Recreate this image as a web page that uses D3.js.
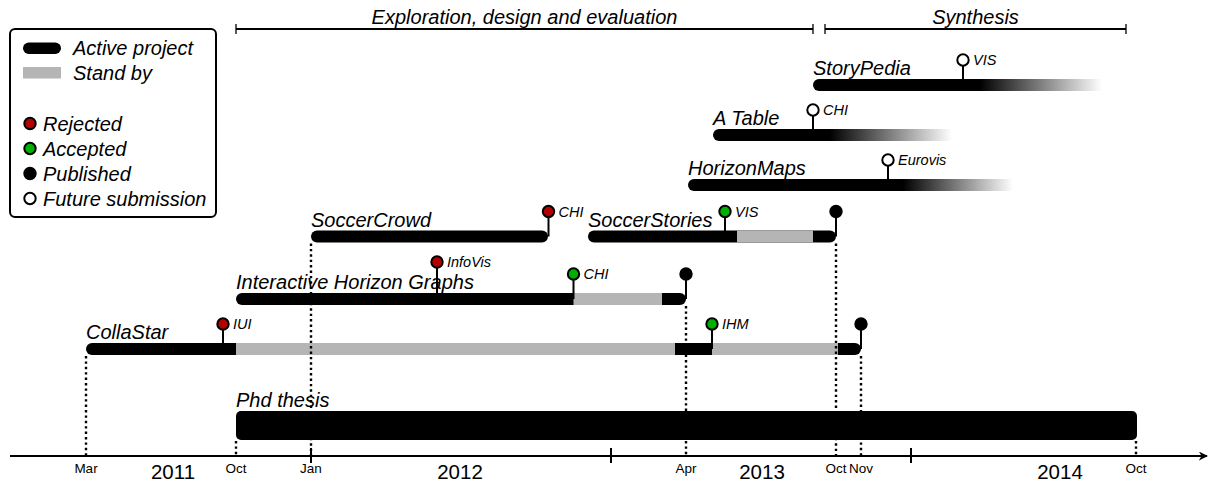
<!DOCTYPE html>
<html>
<head>
<meta charset="utf-8">
<script src="https://cdn.jsdelivr.net/npm/d3@7"></script>
<style>
  body { margin: 0; background: #fff; }
  text { font-family: "Liberation Sans", Arial, sans-serif; }
</style>
</head>
<body>
<div class="svg"></div>
<script>
var w = 1215;
var h = 483;

// time is counted in months since Jan 2011
var rows = ["StoryPedia", "A Table", "HorizonMaps", "Soccer", "Interactive Horizon Graphs", "CollaStar", "Phd thesis"];

// projects: start, end, stand by periods
var projects = [
  { name: "CollaStar", row: "CollaStar", start: 3, end: 34, standby: [[9, 26.56], [28.04, 33.08]] },
  { name: "Interactive Horizon Graphs", row: "Interactive Horizon Graphs", start: 9, end: 27, standby: [[22.5, 26.04]] },
  { name: "SoccerCrowd", row: "Soccer", start: 12, end: 21.48, standby: [] },
  { name: "SoccerStories", row: "Soccer", start: 23.08, end: 33, standby: [[29.04, 32.08]] }
];

// projects still running, fading out
var fading = [
  { name: "StoryPedia", row: "StoryPedia", start: 32.08, fadeFrom: 38.08, fadeTo: 43.64 },
  { name: "A Table", row: "A Table", start: 28.08, fadeFrom: 32.08, fadeTo: 37.64 },
  { name: "HorizonMaps", row: "HorizonMaps", start: 27.08, fadeFrom: 35.08, fadeTo: 40.08 }
];

var thesis = { name: "Phd thesis", row: "Phd thesis", start: 9, end: 45.04 };

// submissions
var events = [
  { row: "CollaStar", project: "CollaStar", at: 8.48, status: "rejected", venue: "IUI" },
  { row: "CollaStar", project: "CollaStar", at: 28.04, status: "accepted", venue: "IHM" },
  { row: "CollaStar", project: "CollaStar", at: 34, status: "published", venue: "" },
  { row: "Interactive Horizon Graphs", project: "Interactive Horizon Graphs", at: 17.04, status: "rejected", venue: "InfoVis" },
  { row: "Interactive Horizon Graphs", project: "Interactive Horizon Graphs", at: 22.5, status: "accepted", venue: "CHI" },
  { row: "Interactive Horizon Graphs", project: "Interactive Horizon Graphs", at: 27, status: "published", venue: "" },
  { row: "Soccer", project: "SoccerCrowd", at: 21.5, status: "rejected", venue: "CHI" },
  { row: "Soccer", project: "SoccerStories", at: 28.56, status: "accepted", venue: "VIS" },
  { row: "Soccer", project: "SoccerStories", at: 33, status: "published", venue: "" },
  { row: "HorizonMaps", project: "HorizonMaps", at: 35.08, status: "future", venue: "Eurovis" },
  { row: "A Table", project: "A Table", at: 32.08, status: "future", venue: "CHI" },
  { row: "StoryPedia", project: "StoryPedia", at: 38.08, status: "future", venue: "VIS" }
];

// dotted milestones on the time axis
var milestones = [
  { label: "Mar", at: 3, row: "CollaStar" },
  { label: "Oct", at: 9, row: "Phd thesis" },
  { label: "Jan", at: 12, row: "Soccer" },
  { label: "Apr", at: 27, row: "Interactive Horizon Graphs" },
  { label: "Oct", at: 33, row: "Soccer" },
  { label: "Nov", at: 34, row: "CollaStar" },
  { label: "Oct", at: 45, row: "Phd thesis" }
];

var yearTicks = [12, 24, 36];
var yearLabels = [
  { year: "2011", at: 6.48 },
  { year: "2012", at: 17.96 },
  { year: "2013", at: 30.04 },
  { year: "2014", at: 41.96 }
];

var phases = [
  { label: "Exploration, design and evaluation", from: 9, to: 32.08 },
  { label: "Synthesis", from: 32.56, to: 44.6 }
];

var legendBars = [
  { label: "Active project", type: "active" },
  { label: "Stand by", type: "standby" }
];
var legendDots = [
  { label: "Rejected", status: "rejected" },
  { label: "Accepted", status: "accepted" },
  { label: "Published", status: "published" },
  { label: "Future submission", status: "future" }
];

var statusColor = { rejected: "#b30000", accepted: "#00b000", published: "#000", future: "#fff" };
var greyColor = "#b5b5b5";

var x = d3.scaleLinear().domain([0, 48]).range([11, 1211]);
var y = d3.scaleOrdinal().domain(rows).range([85, 135, 185, 236.5, 299, 349, 425.5]);

var barH = 12;
var thesisH = 29;
var axisY = 456;
var bigFont = 20;

var svg = d3.select(".svg").append("svg")
  .attr("width", w)
  .attr("height", h);

var defs = svg.append("defs");

defs.append("marker")
  .attr("id", "arrow")
  .attr("viewBox", "0 0 10 10")
  .attr("refX", 9).attr("refY", 5)
  .attr("markerWidth", 9).attr("markerHeight", 9)
  .attr("markerUnits", "userSpaceOnUse")
  .attr("orient", "auto")
  .append("path")
  .attr("d", "M0,0 L10,5 L0,10 L3,5 Z")
  .attr("fill", "#000");

// ---- phases on top
var ph = svg.append("g").selectAll("g").data(phases).enter().append("g");
ph.append("line")
  .attr("x1", d => x(d.from)).attr("x2", d => x(d.to))
  .attr("y1", 29).attr("y2", 29)
  .attr("stroke", "#000").attr("stroke-width", 2);
ph.append("line")
  .attr("x1", d => x(d.from)).attr("x2", d => x(d.from))
  .attr("y1", 24).attr("y2", 34)
  .attr("stroke", "#000").attr("stroke-width", 1.3);
ph.append("line")
  .attr("x1", d => x(d.to)).attr("x2", d => x(d.to))
  .attr("y1", 24).attr("y2", 34)
  .attr("stroke", "#000").attr("stroke-width", 1.3);
ph.append("text")
  .text(d => d.label)
  .attr("x", d => (x(d.from) + x(d.to)) / 2)
  .attr("y", 24)
  .attr("text-anchor", "middle")
  .attr("font-size", bigFont)
  .attr("font-style", "italic");

// ---- thesis bar
svg.append("rect")
  .attr("x", x(thesis.start))
  .attr("y", y(thesis.row) - thesisH / 2)
  .attr("width", x(thesis.end) - x(thesis.start))
  .attr("height", thesisH)
  .attr("rx", 5).attr("ry", 5)
  .attr("fill", "#000");

// ---- finished projects
var pr = svg.append("g").selectAll("g").data(projects).enter().append("g");
pr.append("rect")
  .attr("x", d => x(d.start))
  .attr("y", d => y(d.row) - barH / 2)
  .attr("width", d => x(d.end) - x(d.start))
  .attr("height", barH)
  .attr("rx", barH / 2).attr("ry", barH / 2)
  .attr("fill", "#000");
pr.selectAll(".sb")
  .data(d => d.standby.map(s => ({ row: d.row, from: s[0], to: s[1] })))
  .enter().append("rect")
  .attr("class", "sb")
  .attr("x", d => x(d.from))
  .attr("y", d => y(d.row) - barH / 2)
  .attr("width", d => x(d.to) - x(d.from))
  .attr("height", barH)
  .attr("fill", greyColor);

// ---- fading projects
fading.forEach(function (d, i) {
  var g = defs.append("linearGradient")
    .attr("id", "fade" + i)
    .attr("gradientUnits", "userSpaceOnUse")
    .attr("x1", x(d.fadeFrom)).attr("x2", x(d.fadeTo))
    .attr("y1", 0).attr("y2", 0);
  g.append("stop").attr("offset", 0).attr("stop-color", "#000");
  g.append("stop").attr("offset", 0.12).attr("stop-color", "#000");
  g.append("stop").attr("offset", 1).attr("stop-color", "#fff");
});
var fd = svg.append("g").selectAll("g").data(fading).enter().append("g");
fd.append("rect")
  .attr("x", d => x(d.start))
  .attr("y", d => y(d.row) - barH / 2)
  .attr("width", d => x(d.fadeFrom) - x(d.start) + barH)
  .attr("height", barH)
  .attr("rx", barH / 2).attr("ry", barH / 2)
  .attr("fill", "#000");
fd.append("rect")
  .attr("x", d => x(d.fadeFrom))
  .attr("y", d => y(d.row) - barH / 2)
  .attr("width", d => x(d.fadeTo) - x(d.fadeFrom))
  .attr("height", barH)
  .attr("fill", (d, i) => "url(#fade" + i + ")");

// ---- project labels
var allBars = projects.concat(fading);
var labelSpan = {};
svg.append("g").selectAll("text")
  .data(allBars.concat([thesis]))
  .enter().append("text")
  .text(d => d.name)
  .attr("x", d => x(d.start))
  .attr("y", d => y(d.row) - (d === thesis ? thesisH : barH) / 2 - 4)
  .attr("font-size", bigFont)
  .attr("font-style", "italic")
  .each(function (d) {
    labelSpan[d.name] = [x(d.start), x(d.start) + this.getComputedTextLength()];
  });

// ---- dotted milestone lines
svg.append("g").selectAll("line")
  .data(milestones)
  .enter().append("line")
  .attr("x1", d => x(d.at)).attr("x2", d => x(d.at))
  .attr("y1", d => y(d.row) + (d.row === thesis.row ? thesisH : barH) / 2 + 1)
  .attr("y2", axisY)
  .attr("stroke", "#000")
  .attr("stroke-width", 2.4)
  .attr("stroke-dasharray", "2.4,3");

// ---- submissions (stem + dot + venue)
function stemLen(d) {
  // raise the dot when it would sit on the project title
  var s = labelSpan[d.project];
  var cx = x(d.at);
  return (s && cx > s[0] - 8 && cx < s[1] + 8) ? 37 : 25;
}
var ev = svg.append("g").selectAll("g").data(events).enter().append("g");
ev.append("line")
  .attr("x1", d => x(d.at)).attr("x2", d => x(d.at))
  .attr("y1", d => y(d.row))
  .attr("y2", d => y(d.row) - stemLen(d))
  .attr("stroke", "#000").attr("stroke-width", 2);
ev.append("circle")
  .attr("cx", d => x(d.at))
  .attr("cy", d => y(d.row) - stemLen(d))
  .attr("r", 5.7)
  .attr("fill", d => statusColor[d.status])
  .attr("stroke", "#000").attr("stroke-width", 2);
ev.append("text")
  .text(d => d.venue)
  .attr("x", d => x(d.at) + 10)
  .attr("y", d => y(d.row) - stemLen(d) + 5)
  .attr("font-size", 14.5)
  .attr("font-style", "italic");

// ---- time axis
svg.append("line")
  .attr("x1", 10).attr("x2", 1207)
  .attr("y1", axisY).attr("y2", axisY)
  .attr("stroke", "#000").attr("stroke-width", 2.2)
  .attr("marker-end", "url(#arrow)");
svg.append("g").selectAll("line")
  .data(yearTicks)
  .enter().append("line")
  .attr("x1", d => x(d)).attr("x2", d => x(d))
  .attr("y1", axisY - 8).attr("y2", axisY + 7)
  .attr("stroke", "#000").attr("stroke-width", 2);
svg.append("g").selectAll("text")
  .data(milestones)
  .enter().append("text")
  .text(d => d.label)
  .attr("x", d => x(d.at))
  .attr("y", 473)
  .attr("text-anchor", "middle")
  .attr("font-size", 13.5);
svg.append("g").selectAll("text")
  .data(yearLabels)
  .enter().append("text")
  .text(d => d.year)
  .attr("x", d => x(d.at))
  .attr("y", 478.5)
  .attr("text-anchor", "middle")
  .attr("font-size", 20.5);

// ---- legend
var lg = svg.append("g");
lg.append("rect")
  .attr("x", 10).attr("y", 29)
  .attr("width", 206).attr("height", 188)
  .attr("rx", 5).attr("ry", 5)
  .attr("fill", "#fff")
  .attr("stroke", "#000").attr("stroke-width", 2);
lg.selectAll(".lb").data(legendBars).enter().append("rect")
  .attr("class", "lb")
  .attr("x", 23)
  .attr("y", (d, i) => 42.5 + i * 24.5)
  .attr("width", 38)
  .attr("height", 11.5)
  .attr("rx", d => d.type === "active" ? 5.75 : 0)
  .attr("fill", d => d.type === "active" ? "#000" : greyColor);
lg.selectAll(".lbt").data(legendBars).enter().append("text")
  .attr("class", "lbt")
  .text(d => d.label)
  .attr("x", 73)
  .attr("y", (d, i) => 55 + i * 24.5)
  .attr("font-size", bigFont)
  .attr("font-style", "italic");
lg.selectAll("circle").data(legendDots).enter().append("circle")
  .attr("cx", 30)
  .attr("cy", (d, i) => 123.5 + i * 25)
  .attr("r", 5.7)
  .attr("fill", d => statusColor[d.status])
  .attr("stroke", "#000").attr("stroke-width", 2);
lg.selectAll(".ldt").data(legendDots).enter().append("text")
  .attr("class", "ldt")
  .text(d => d.label)
  .attr("x", 43)
  .attr("y", (d, i) => 130.5 + i * 25)
  .attr("font-size", bigFont)
  .attr("font-style", "italic");
</script>
</body>
</html>
